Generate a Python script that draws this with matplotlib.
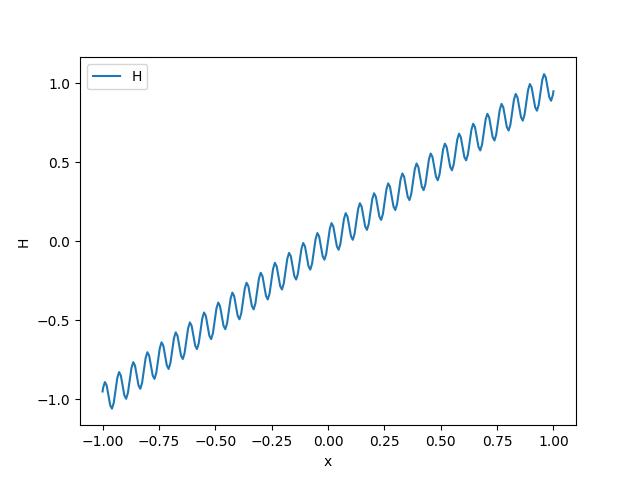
import matplotlib
matplotlib.use("Agg")
import matplotlib.pyplot as plt

# x positions and H values (about 8 samples per wiggle)
x_vals = [
    -1.0, -0.9975, -0.9896, -0.9817, -0.9739, -0.9660, -0.9582, -0.9503,
    -0.9425, -0.9346, -0.9268, -0.9189, -0.9111, -0.9032, -0.8954, -0.8875,
    -0.8796, -0.8718, -0.8639, -0.8561, -0.8482, -0.8404, -0.8325, -0.8247,
    -0.8168, -0.8090, -0.8011, -0.7933, -0.7854, -0.7775, -0.7697, -0.7618,
    -0.7540, -0.7461, -0.7383, -0.7304, -0.7226, -0.7147, -0.7069, -0.6990,
    -0.6912, -0.6833, -0.6754, -0.6676, -0.6597, -0.6519, -0.6440, -0.6362,
    -0.6283, -0.6205, -0.6126, -0.6048, -0.5969, -0.5890, -0.5812, -0.5733,
    -0.5655, -0.5576, -0.5498, -0.5419, -0.5341, -0.5262, -0.5184, -0.5105,
    -0.5027, -0.4948, -0.4869, -0.4791, -0.4712, -0.4634, -0.4555, -0.4477,
    -0.4398, -0.4320, -0.4241, -0.4163, -0.4084, -0.4006, -0.3927, -0.3848,
    -0.3770, -0.3691, -0.3613, -0.3534, -0.3456, -0.3377, -0.3299, -0.3220,
    -0.3142, -0.3063, -0.2985, -0.2906, -0.2827, -0.2749, -0.2670, -0.2592,
    -0.2513, -0.2435, -0.2356, -0.2278, -0.2199, -0.2121, -0.2042, -0.1963,
    -0.1885, -0.1806, -0.1728, -0.1649, -0.1571, -0.1492, -0.1414, -0.1335,
    -0.1257, -0.1178, -0.1100, -0.1021, -0.0942, -0.0864, -0.0785, -0.0707,
    -0.0628, -0.0550, -0.0471, -0.0393, -0.0314, -0.0236, -0.0157, -0.0079,
    0.0,
    0.0079, 0.0157, 0.0236, 0.0314, 0.0393, 0.0471, 0.0550, 0.0628,
    0.0707, 0.0785, 0.0864, 0.0942, 0.1021, 0.1100, 0.1178, 0.1257,
    0.1335, 0.1414, 0.1492, 0.1571, 0.1649, 0.1728, 0.1806, 0.1885,
    0.1963, 0.2042, 0.2121, 0.2199, 0.2278, 0.2356, 0.2435, 0.2513,
    0.2592, 0.2670, 0.2749, 0.2827, 0.2906, 0.2985, 0.3063, 0.3142,
    0.3220, 0.3299, 0.3377, 0.3456, 0.3534, 0.3613, 0.3691, 0.3770,
    0.3848, 0.3927, 0.4006, 0.4084, 0.4163, 0.4241, 0.4320, 0.4398,
    0.4477, 0.4555, 0.4634, 0.4712, 0.4791, 0.4869, 0.4948, 0.5027,
    0.5105, 0.5184, 0.5262, 0.5341, 0.5419, 0.5498, 0.5576, 0.5655,
    0.5733, 0.5812, 0.5890, 0.5969, 0.6048, 0.6126, 0.6205, 0.6283,
    0.6362, 0.6440, 0.6519, 0.6597, 0.6676, 0.6754, 0.6833, 0.6912,
    0.6990, 0.7069, 0.7147, 0.7226, 0.7304, 0.7383, 0.7461, 0.7540,
    0.7618, 0.7697, 0.7775, 0.7854, 0.7933, 0.8011, 0.8090, 0.8168,
    0.8247, 0.8325, 0.8404, 0.8482, 0.8561, 0.8639, 0.8718, 0.8796,
    0.8875, 0.8954, 0.9032, 0.9111, 0.9189, 0.9268, 0.9346, 0.9425,
    0.9503, 0.9582, 0.9660, 0.9739, 0.9817, 0.9896, 0.9975, 1.0,
]

h_vals = [
    -0.9494, -0.9268, -0.8896, -0.9110, -0.9739, -1.0368, -1.0582, -1.0210,
    -0.9425, -0.8639, -0.8268, -0.8482, -0.9111, -0.9739, -0.9954, -0.9582,
    -0.8796, -0.8011, -0.7639, -0.7854, -0.8482, -0.9111, -0.9325, -0.8954,
    -0.8168, -0.7382, -0.7011, -0.7225, -0.7854, -0.8482, -0.8697, -0.8325,
    -0.7540, -0.6754, -0.6383, -0.6597, -0.7226, -0.7854, -0.8069, -0.7697,
    -0.6912, -0.6126, -0.5754, -0.5969, -0.6597, -0.7226, -0.7440, -0.7069,
    -0.6283, -0.5498, -0.5126, -0.5341, -0.5969, -0.6598, -0.6812, -0.6441,
    -0.5655, -0.4869, -0.4498, -0.4712, -0.5341, -0.5969, -0.6184, -0.5812,
    -0.5027, -0.4241, -0.3869, -0.4084, -0.4712, -0.5341, -0.5555, -0.5184,
    -0.4398, -0.3613, -0.3241, -0.3455, -0.4084, -0.4713, -0.4927, -0.4556,
    -0.3770, -0.2984, -0.2613, -0.2827, -0.3456, -0.4084, -0.4299, -0.3927,
    -0.3142, -0.2356, -0.1985, -0.2199, -0.2827, -0.3456, -0.3670, -0.3299,
    -0.2513, -0.1728, -0.1356, -0.1571, -0.2199, -0.2828, -0.3042, -0.2671,
    -0.1885, -0.1099, -0.0728, -0.0942, -0.1571, -0.2199, -0.2414, -0.2042,
    -0.1257, -0.0471, -0.0100, -0.0314, -0.0942, -0.1571, -0.1785, -0.1414,
    -0.0628, 0.0157, 0.0529, 0.0314, -0.0314, -0.0943, -0.1157, -0.0786,
    0.0,
    0.0786, 0.1157, 0.0943, 0.0314, -0.0314, -0.0529, -0.0157, 0.0628,
    0.1414, 0.1785, 0.1571, 0.0942, 0.0314, 0.0100, 0.0471, 0.1257,
    0.2042, 0.2414, 0.2199, 0.1571, 0.0942, 0.0728, 0.1099, 0.1885,
    0.2671, 0.3042, 0.2828, 0.2199, 0.1571, 0.1356, 0.1728, 0.2513,
    0.3299, 0.3670, 0.3456, 0.2827, 0.2199, 0.1985, 0.2356, 0.3142,
    0.3927, 0.4299, 0.4084, 0.3456, 0.2827, 0.2613, 0.2984, 0.3770,
    0.4556, 0.4927, 0.4713, 0.4084, 0.3455, 0.3241, 0.3613, 0.4398,
    0.5184, 0.5555, 0.5341, 0.4712, 0.4084, 0.3869, 0.4241, 0.5027,
    0.5812, 0.6184, 0.5969, 0.5341, 0.4712, 0.4498, 0.4869, 0.5655,
    0.6441, 0.6812, 0.6598, 0.5969, 0.5341, 0.5126, 0.5498, 0.6283,
    0.7069, 0.7440, 0.7226, 0.6597, 0.5969, 0.5754, 0.6126, 0.6912,
    0.7697, 0.8069, 0.7854, 0.7226, 0.6597, 0.6383, 0.6754, 0.7540,
    0.8325, 0.8697, 0.8482, 0.7854, 0.7225, 0.7011, 0.7382, 0.8168,
    0.8954, 0.9325, 0.9111, 0.8482, 0.7854, 0.7639, 0.8011, 0.8796,
    0.9582, 0.9954, 0.9739, 0.9111, 0.8482, 0.8268, 0.8639, 0.9425,
    1.0210, 1.0582, 1.0368, 0.9739, 0.9110, 0.8896, 0.9268, 0.9494,
]

fig, ax = plt.subplots(figsize=(6.4, 4.78), dpi=100)
ax.plot(x_vals, h_vals, label='H')
ax.set_xlabel('x')
ax.set_ylabel('H')
ax.legend(loc='upper left')

plt.savefig('out.png')
